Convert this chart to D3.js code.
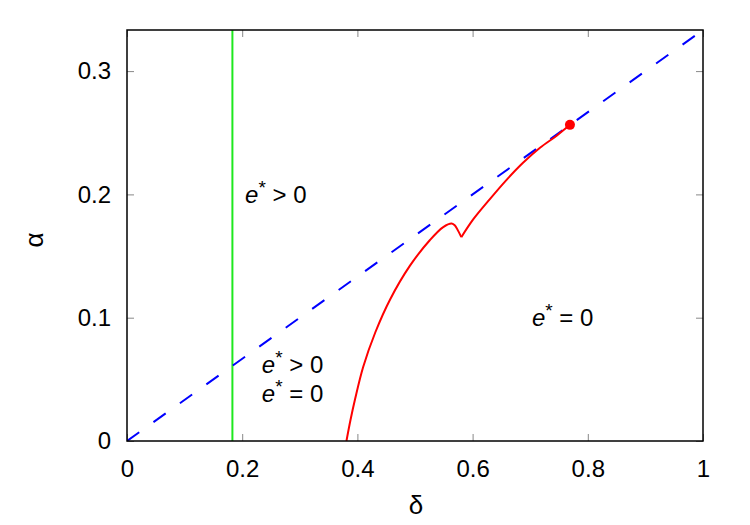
<!DOCTYPE html>
<html>
<head>
<meta charset="utf-8">
<script src="https://cdn.jsdelivr.net/npm/d3@7"></script>
<style>
  html, body { margin: 0; padding: 0; background: #fff; }
  svg { display: block; font-family: "Liberation Sans", Arial, Helvetica, sans-serif; }
</style>
</head>
<body>
<svg id="chart" width="750" height="525"></svg>
<script>
// ---------- data ----------
const xTicks = [0, 0.2, 0.4, 0.6, 0.8, 1];
const yTicks = [0, 0.1, 0.2, 0.3];
const xTickLabels = ["0", "0.2", "0.4", "0.6", "0.8", "1"];
const yTickLabels = ["0", "0.1", "0.2", "0.3"];

// boundary alpha = delta/3 (blue dashed)
const blueDelta = [0, 1];
const blueAlpha = [0, 1 / 3];

// vertical green line
const greenDelta = 0.183;

// red curve, first branch (rising from axis to peak, then falling to cusp)
const redBranch1Delta = [0.381, 0.388, 0.396, 0.410, 0.431, 0.457, 0.491, 0.526, 0.549, 0.5637, 0.5694, 0.5752, 0.5804];
const redBranch1Alpha = [0.000, 0.017, 0.034, 0.060, 0.088, 0.115, 0.142, 0.163, 0.1735, 0.1764, 0.1748, 0.1702, 0.1653];

// red curve, second branch (from cusp up to end point)
const redBranch2Delta = [0.5804, 0.601, 0.630, 0.659, 0.688, 0.717, 0.746, 0.769];
const redBranch2Alpha = [0.1653, 0.1797, 0.1962, 0.2118, 0.2258, 0.2378, 0.2476, 0.2564];

// end point marker
const dotDelta = [0.769];
const dotAlpha = [0.2564];

// region labels
const labelText = ["> 0", "> 0", "= 0", "= 0"];
const labelDelta = [0.205, 0.234, 0.234, 0.703];
const labelAlpha = [0.1927, 0.0548, 0.0317, 0.093];

(function () {
// ---------- layout ----------
const svg = d3.select("#chart");
const mLeft = 127, mTop = 30, mRight = 703, mBottom = 441;
const fs = 24;

const x = d3.scaleLinear().domain([0, 1]).range([mLeft, mRight]);
const y = d3.scaleLinear().domain([0, 1 / 3]).range([mBottom, mTop]);

// axes (inward ticks, mirrored)
const tickColor = "#888";
const gx = svg.append("g").attr("transform", `translate(0,${mBottom})`)
  .call(d3.axisBottom(x).tickValues(xTicks).tickSizeInner(-7).tickSizeOuter(0)
    .tickFormat((d, i) => xTickLabels[i]));
gx.selectAll("text").attr("y", 19).attr("dy", "0.71em");
const gy = svg.append("g").attr("transform", `translate(${mLeft},0)`)
  .call(d3.axisLeft(y).tickValues(yTicks).tickSizeInner(-7).tickSizeOuter(0)
    .tickFormat((d, i) => yTickLabels[i]));
gy.selectAll("text").attr("x", -16);
const gt = svg.append("g").attr("transform", `translate(0,${mTop})`)
  .call(d3.axisTop(x).tickValues(xTicks).tickSizeInner(-7).tickSizeOuter(0).tickFormat(""));
const gr = svg.append("g").attr("transform", `translate(${mRight},0)`)
  .call(d3.axisRight(y).tickValues(yTicks).tickSizeInner(-7).tickSizeOuter(0).tickFormat(""));

[gx, gy, gt, gr].forEach(g => {
  g.select(".domain").remove();
  g.selectAll(".tick line").attr("stroke", tickColor).attr("stroke-width", 1);
  g.selectAll("text").attr("font-size", fs).attr("fill", "#000")
    .attr("font-family", "'Liberation Sans', Arial, sans-serif");
});

// clip region
svg.append("clipPath").attr("id", "clip").append("rect")
  .attr("x", mLeft).attr("y", mTop).attr("width", mRight - mLeft).attr("height", mBottom - mTop);
const plot = svg.append("g").attr("clip-path", "url(#clip)");

// green vertical line
plot.append("line")
  .attr("x1", x(greenDelta)).attr("x2", x(greenDelta))
  .attr("y1", y(0)).attr("y2", y(1 / 3))
  .attr("stroke", "#1ee81e").attr("stroke-width", 2);

// blue dashed line
const line = d3.line().x(d => x(d[0])).y(d => y(d[1]));
plot.append("path")
  .attr("d", line(d3.zip(blueDelta, blueAlpha)))
  .attr("fill", "none").attr("stroke", "#0000ff").attr("stroke-width", 2)
  .attr("stroke-dasharray", "15,17.5");

// red curve
const smooth = d3.line().x(d => x(d[0])).y(d => y(d[1])).curve(d3.curveCatmullRom.alpha(0.5));
plot.append("path")
  .attr("d", smooth(d3.zip(redBranch1Delta, redBranch1Alpha)))
  .attr("fill", "none").attr("stroke", "#ff0000").attr("stroke-width", 2);
plot.append("path")
  .attr("d", smooth(d3.zip(redBranch2Delta, redBranch2Alpha)))
  .attr("fill", "none").attr("stroke", "#ff0000").attr("stroke-width", 2);

// end point dot
svg.selectAll("circle.dot").data(d3.zip(dotDelta, dotAlpha)).enter().append("circle")
  .attr("class", "dot")
  .attr("cx", d => x(d[0])).attr("cy", d => y(d[1])).attr("r", 5)
  .attr("fill", "#ff0000");

// border
svg.append("rect")
  .attr("x", mLeft).attr("y", mTop).attr("width", mRight - mLeft).attr("height", mBottom - mTop)
  .attr("fill", "none").attr("stroke", "#000").attr("stroke-width", 1.5);

// region labels
labelText.forEach((t, i) => {
  const tx = svg.append("text")
    .attr("x", x(labelDelta[i])).attr("y", y(labelAlpha[i]))
    .attr("font-size", fs).attr("fill", "#000");
  tx.append("tspan").attr("font-style", "italic").text("e");
  tx.append("tspan").attr("dy", -9).attr("font-size", 19).text("*");
  tx.append("tspan").attr("dy", 9).text(" " + t);
});

// axis titles
svg.append("text").attr("x", 416).attr("y", 514)
  .attr("text-anchor", "middle").attr("font-size", 26).text("δ");
svg.append("text")
  .attr("transform", "translate(43,240) rotate(-90)")
  .attr("text-anchor", "middle").attr("font-size", 26).text("α");
})();
</script>
</body>
</html>
